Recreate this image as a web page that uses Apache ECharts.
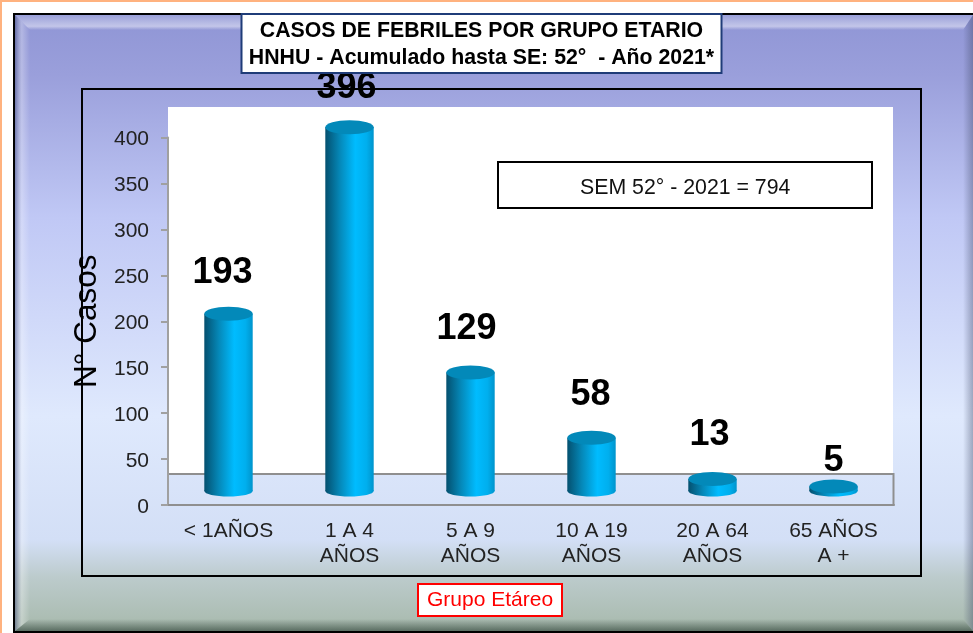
<!DOCTYPE html>
<html>
<head>
<meta charset="utf-8">
<script src="https://cdn.jsdelivr.net/npm/echarts@6/dist/echarts.min.js"></script>
<style>
html,body{margin:0;padding:0;background:#fff;}
#demo{width:973px;height:633px;}
</style>
</head>
<body>
<div id="demo"></div>
<script>
var categories = ['< 1AÑOS', '1 A 4\nAÑOS', '5 A 9\nAÑOS', '10 A 19\nAÑOS', '20 A 64\nAÑOS', '65 AÑOS\nA +'];
var casos = [193, 396, 129, 58, 13, 5];
var yTicks = [0, 400];   // min y max del eje

var lift = 14;           // el cilindro "flota" sobre el piso
var labelDx = [-6, -3, -4, -1, -3, 0];
var labelDy = [-41, -39, -43, -43, -44, -25];
var font = '"Liberation Sans", Arial, sans-serif';

function cylinder(params, api) {
    var i = params.dataIndex;
    var cx = api.coord([api.value(0), 0])[0];
    var y0 = api.coord([api.value(0), 0])[1] - lift;
    var y1 = api.coord([api.value(0), api.value(1)])[1] - lift;
    var w = api.size([1, 0])[0] * 0.4;
    var body = new echarts.graphic.LinearGradient(0, 0, 1, 0, [
        {offset: 0, color: '#04506f'},
        {offset: 0.3, color: '#0588b8'},
        {offset: 0.62, color: '#00bcff'},
        {offset: 0.85, color: '#00afee'},
        {offset: 1, color: '#0094cc'}
    ]);
    return {
        type: 'group',
        children: [
            {type: 'ellipse', shape: {cx: cx, cy: y0, rx: w / 2, ry: 5.5}, style: {fill: body}},
            {type: 'rect', shape: {x: cx - w / 2, y: y1, width: w, height: y0 - y1}, style: {fill: body}},
            {type: 'ellipse', shape: {cx: cx, cy: y1, rx: w / 2, ry: 7}, style: {fill: '#0389b9'}},
            {
                type: 'text',
                style: {
                    x: cx + labelDx[i], y: y1 + labelDy[i],
                    text: String(api.value(1)),
                    fill: '#000',
                    font: 'bold 36px ' + font,
                    align: 'center', verticalAlign: 'middle'
                }
            }
        ]
    };
}

var option = {
    animation: false,
    title: [
        {
            text: 'CASOS DE FEBRILES POR GRUPO ETARIO\nHNHU - Acumulado hasta SE: 52°  - Año 2021*',
            left: 473.5, top: 14,
            textAlign: 'center',
            backgroundColor: '#fff', borderColor: '#1f3c78', borderWidth: 2,
            padding: [4, 8, 1, 8],
            textStyle: {color: '#000', fontFamily: font, fontWeight: 'bold', fontSize: 21.3, lineHeight: 27}
        },
        {
            text: 'SEM 52° - 2021 = 794',
            left: 498, top: 163,
            backgroundColor: '#fff', borderColor: '#000', borderWidth: 2,
            padding: [16, 82, 9, 82],
            textStyle: {color: '#111', fontFamily: font, fontWeight: 'normal', fontSize: 21.3, lineHeight: 19}
        },
        {
            text: 'Grupo Etáreo',
            left: 418, top: 584,
            backgroundColor: '#fff', borderColor: '#f00', borderWidth: 2,
            padding: [6, 9, 6, 9],
            textStyle: {color: '#f00', fontFamily: font, fontWeight: 'normal', fontSize: 21, lineHeight: 20}
        }
    ],
    graphic: [
        // marco de la lamina
        {type: 'rect', z: -10, shape: {x: 0, y: 0, width: 973, height: 2}, style: {fill: '#ffb27f'}},
        {type: 'rect', z: -10, shape: {x: 0, y: 0, width: 2, height: 633}, style: {fill: '#ffb27f'}},
        {type: 'rect', z: -10, shape: {x: 14, y: 14, width: 962, height: 618}, style: {
            stroke: '#000', lineWidth: 2,
            fill: new echarts.graphic.LinearGradient(0, 0, 0, 1, [
                {offset: 0, color: '#8f95d5'},
                {offset: 0.1, color: '#9a9fdb'},
                {offset: 0.33, color: '#c0c8f5'},
                {offset: 0.65, color: '#dfe9fd'},
                {offset: 0.85, color: '#d3dff6'},
                {offset: 0.91, color: '#bccbcc'},
                {offset: 1, color: '#a6b8aa'}
            ])
        }},
        // bisel
        {type: 'polygon', z: -9, shape: {points: [[15, 15], [973, 15], [963, 30], [30, 30]]}, style: {
            fill: new echarts.graphic.LinearGradient(0, 0, 0, 1, [
                {offset: 0, color: 'rgba(255,255,255,0.1)'},
                {offset: 0.75, color: 'rgba(255,255,255,0.45)'},
                {offset: 1, color: 'rgba(255,255,255,0)'}
            ])
        }},
        {type: 'polygon', z: -9, shape: {points: [[15, 15], [30, 30], [30, 619], [15, 631]]}, style: {
            fill: new echarts.graphic.LinearGradient(0, 0, 1, 0, [
                {offset: 0, color: 'rgba(50,60,110,0.45)'},
                {offset: 0.45, color: 'rgba(255,255,255,0.3)'},
                {offset: 1, color: 'rgba(255,255,255,0)'}
            ])
        }},
        {type: 'polygon', z: -9, shape: {points: [[15, 631], [30, 619], [963, 619], [973, 631]]}, style: {
            fill: new echarts.graphic.LinearGradient(0, 0, 0, 1, [
                {offset: 0, color: 'rgba(40,60,50,0)'},
                {offset: 1, color: 'rgba(40,60,50,0.6)'}
            ])
        }},
        {type: 'polygon', z: -9, shape: {points: [[973, 15], [963, 30], [963, 619], [973, 631]]}, style: {
            fill: new echarts.graphic.LinearGradient(0, 0, 1, 0, [
                {offset: 0, color: 'rgba(60,70,100,0)'},
                {offset: 1, color: 'rgba(60,70,100,0.4)'}
            ])
        }},
        // recuadro del grafico, pared y piso
        {type: 'rect', z: -8, shape: {x: 82, y: 89, width: 839, height: 487}, style: {fill: 'none', stroke: '#000', lineWidth: 2}},
        {type: 'rect', z: -8, shape: {x: 168, y: 107, width: 725, height: 366}, style: {fill: '#fff'}},
        {type: 'polyline', z: -7, shape: {points: [[168, 474], [893.5, 474], [893.5, 505]]}, style: {fill: 'none', stroke: '#8f8f8f', lineWidth: 2}}
    ],
    grid: {left: 168, top: 137.5, width: 726, height: 367.5},
    xAxis: {
        type: 'category',
        data: categories,
        axisLine: {lineStyle: {color: '#8f8f8f', width: 2}},
        axisTick: {show: false},
        axisLabel: {color: '#222', fontFamily: font, fontSize: 21, lineHeight: 25, margin: 14, interval: 0}
    },
    yAxis: {
        type: 'value',
        min: yTicks[0],
        max: yTicks[1],
        interval: 50,
        name: 'N° Casos',
        nameLocation: 'middle',
        nameRotate: 90,
        nameGap: 56,
        nameTextStyle: {color: '#000', fontFamily: font, fontSize: 31.5},
        splitLine: {show: false},
        axisLine: {show: true, lineStyle: {color: '#a0a0a0', width: 2}},
        axisTick: {show: true, length: 7, lineStyle: {color: '#a0a0a0', width: 2}},
        axisLabel: {
            margin: 19,
            formatter: '{n|{value}}',
            rich: {n: {color: '#222', fontFamily: font, fontSize: 21, padding: [4, 0, 0, 0]}}
        }
    },
    series: [{
        name: 'Casos',
        type: 'custom',
        renderItem: cylinder,
        encode: {x: 0, y: 1},
        clip: false,
        data: casos.map(function (v, i) { return [i, v]; })
    }]
};

var myChart = echarts.init(document.getElementById('demo'), null, {renderer: 'canvas'});
myChart.setOption(option);
</script>
</body>
</html>
